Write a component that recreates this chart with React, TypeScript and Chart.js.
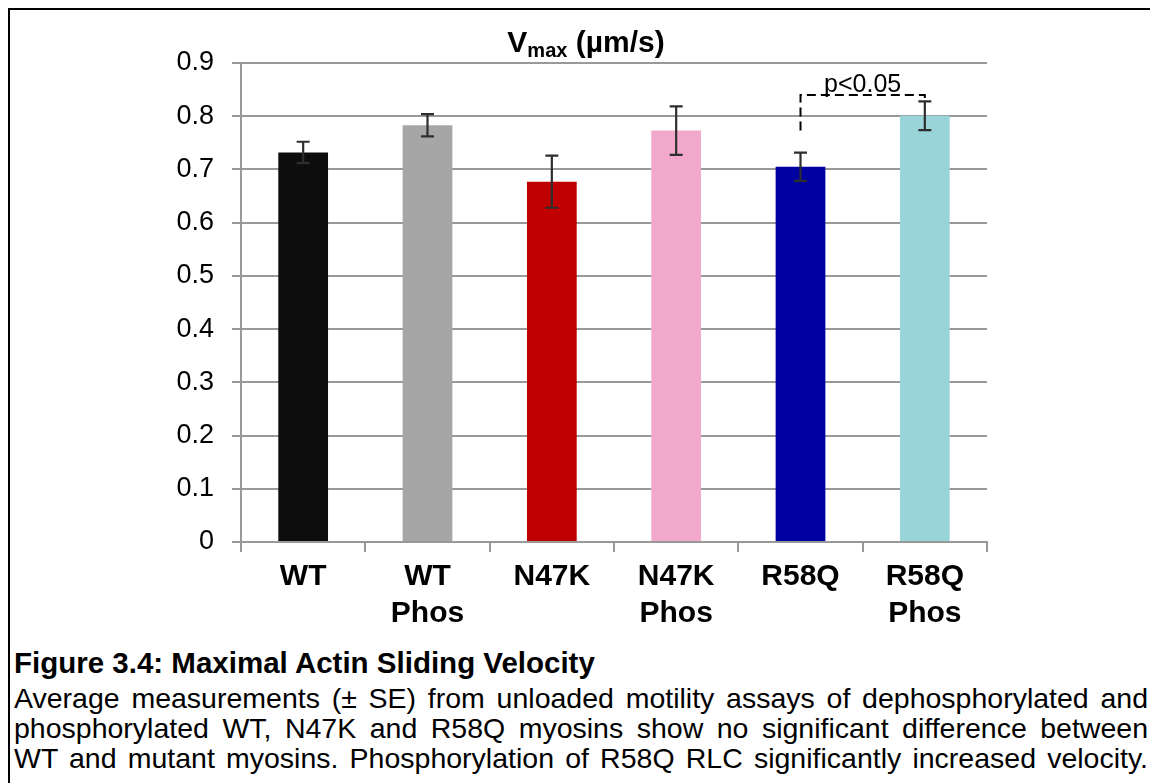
import React, { useEffect, useRef } from "react";
import { Chart, registerables } from "chart.js";

Chart.register(...registerables);

const categories: string[][] = [["WT"], ["WT", "Phos"], ["N47K"], ["N47K", "Phos"], ["R58Q"], ["R58Q", "Phos"]];
const meanVelocity: number[] = [0.732, 0.783, 0.677, 0.773, 0.705, 0.801];
const seVelocity: number[] = [0.02, 0.021, 0.049, 0.0455, 0.0265, 0.027];
const barColors: string[] = ["#0D0D0D", "#A6A6A6", "#C00000", "#F2A8CA", "#0000A0", "#99D5D8"];
const yTicks: number[] = [0, 0.1, 0.2, 0.3, 0.4, 0.5, 0.6, 0.7, 0.8, 0.9];

// significance bracket between R58Q (index 4) and R58Q Phos (index 5)
const bracketFrom = 4;
const bracketTo = 5;
const bracketLevel = 0.84;
const bracketLeftEnd = 0.773;
const bracketRightEnd = 0.834;
const bracketLabel = "p<0.05";

const FONT = "'Liberation Sans', Arial, sans-serif";

const errorBarPlugin = {
  id: "errorBars",
  afterDatasetsDraw(chart: any) {
    const ctx = chart.ctx;
    const meta = chart.getDatasetMeta(0);
    const y = chart.scales.y;
    ctx.save();
    ctx.strokeStyle = "#2E2E2E";
    ctx.lineWidth = 2.2;
    meta.data.forEach((bar: any, i: number) => {
      const x = bar.x;
      const top = y.getPixelForValue(meanVelocity[i] + seVelocity[i]);
      const bot = y.getPixelForValue(meanVelocity[i] - seVelocity[i]);
      ctx.beginPath();
      ctx.moveTo(x, top);
      ctx.lineTo(x, bot);
      ctx.moveTo(x - 6.5, top);
      ctx.lineTo(x + 6.5, top);
      ctx.moveTo(x - 6.5, bot);
      ctx.lineTo(x + 6.5, bot);
      ctx.stroke();
    });
    // bracket
    const x1 = meta.data[bracketFrom].x;
    const x2 = meta.data[bracketTo].x;
    const yl = y.getPixelForValue(bracketLevel);
    ctx.strokeStyle = "#000";
    ctx.lineWidth = 2;
    ctx.setLineDash([9, 5]);
    ctx.beginPath();
    ctx.moveTo(x1, y.getPixelForValue(bracketLeftEnd));
    ctx.lineTo(x1, yl);
    ctx.lineTo(x2, yl);
    ctx.lineTo(x2, y.getPixelForValue(bracketRightEnd));
    ctx.stroke();
    ctx.setLineDash([]);
    ctx.fillStyle = "#000";
    ctx.font = `25px ${FONT}`;
    ctx.textAlign = "center";
    ctx.textBaseline = "alphabetic";
    ctx.fillText(bracketLabel, (x1 + x2) / 2, yl - 3);
    ctx.restore();
  },
};

const titlePlugin = {
  id: "vmaxTitle",
  afterDraw(chart: any) {
    const ctx = chart.ctx;
    ctx.save();
    ctx.fillStyle = "#000";
    ctx.textBaseline = "alphabetic";
    ctx.textAlign = "left";
    const big = `bold 30px ${FONT}`;
    const small = `bold 20px ${FONT}`;
    const p1 = "V";
    const p2 = "max";
    const p3 = " (\u00B5m/s)";
    ctx.font = big;
    const w1 = ctx.measureText(p1).width;
    const w3 = ctx.measureText(p3).width;
    ctx.font = small;
    const w2 = ctx.measureText(p2).width;
    const total = w1 + w2 + w3;
    const cx = 576;
    const base = 42;
    let x = cx - total / 2;
    ctx.font = big;
    ctx.fillText(p1, x, base);
    x += w1;
    ctx.font = small;
    ctx.fillText(p2, x, base + 5);
    x += w2;
    ctx.font = big;
    ctx.fillText(p3, x, base);
    ctx.restore();
  },
};

function App() {
  const ref = useRef<HTMLCanvasElement>(null);
  useEffect(() => {
    if (!ref.current) return;
    const chart = new Chart(ref.current, {
      type: "bar",
      data: {
        labels: categories,
        datasets: [
          {
            data: meanVelocity,
            backgroundColor: barColors,
            borderWidth: 0,
            barPercentage: 0.4,
            categoryPercentage: 1,
          },
        ],
      },
      options: {
        responsive: false,
        animation: false,
        devicePixelRatio: 1,
        layout: { padding: { left: 0, right: 163, top: 53, bottom: 0 } },
        plugins: {
          legend: { display: false },
          title: { display: false },
          tooltip: { enabled: false },
        },
        scales: {
          x: {
            afterFit: (s: any) => {
              s.height = 98;
            },
            grid: {
              display: true,
              drawOnChartArea: false,
              drawTicks: true,
              tickLength: 10,
              color: "#999999",
              lineWidth: 2,
              offset: true,
            },
            border: { display: true, color: "#999999", width: 2 },
            ticks: {
              color: "#000",
              font: { family: FONT, size: 30, weight: "bold", lineHeight: 1.23 },
              padding: 6,
              maxRotation: 0,
              autoSkip: false,
            },
          },
          y: {
            min: 0,
            max: 0.9,
            afterFit: (s: any) => {
              s.width = 231;
            },
            afterBuildTicks: (s: any) => {
              s.ticks = yTicks.map((v) => ({ value: v }));
            },
            grid: {
              color: "#999999",
              lineWidth: 2,
              tickLength: 9,
              drawTicks: true,
            },
            border: { display: true, color: "#999999", width: 2 },
            ticks: {
              color: "#000",
              font: { family: FONT, size: 27 },
              padding: 18,
              callback: (v: any) => (Number(v) === 0 ? "0" : Number(v).toFixed(1)),
            },
          },
        },
      },
      plugins: [errorBarPlugin, titlePlugin],
    } as any);
    return () => chart.destroy();
  }, []);

  const lineStyle: React.CSSProperties = {
    textAlign: "justify",
    textAlignLast: "justify" as any,
    height: 30,
    lineHeight: "30px",
    whiteSpace: "nowrap",
  };

  return (
    <div
      style={{
        position: "relative",
        marginLeft: -1,
        marginTop: -1,
        width: 1151,
        height: 776,
        borderLeft: "3px solid #000",
        borderTop: "3px solid #000",
        boxSizing: "border-box",
        fontFamily: FONT,
        color: "#000",
      }}
    >
      <canvas ref={ref} width={1140} height={630} style={{ position: "absolute", left: 0, top: 0, width: 1140, height: 630 }} />
      <div style={{ position: "absolute", left: 4, top: 638, width: 1134, fontSize: 28.5 }}>
        <div style={{ fontWeight: "bold", fontSize: 29.5, height: 35, lineHeight: "30px", whiteSpace: "nowrap" }}>Figure 3.4: Maximal Actin Sliding Velocity</div>
        <div style={lineStyle}>Average measurements (± SE) from unloaded motility assays of dephosphorylated and</div>
        <div style={lineStyle}>phosphorylated WT, N47K and R58Q myosins show no significant difference between</div>
        <div style={lineStyle}>WT and mutant myosins. Phosphorylation of R58Q RLC significantly increased velocity.</div>
      </div>
    </div>
  );
}

export default App;
